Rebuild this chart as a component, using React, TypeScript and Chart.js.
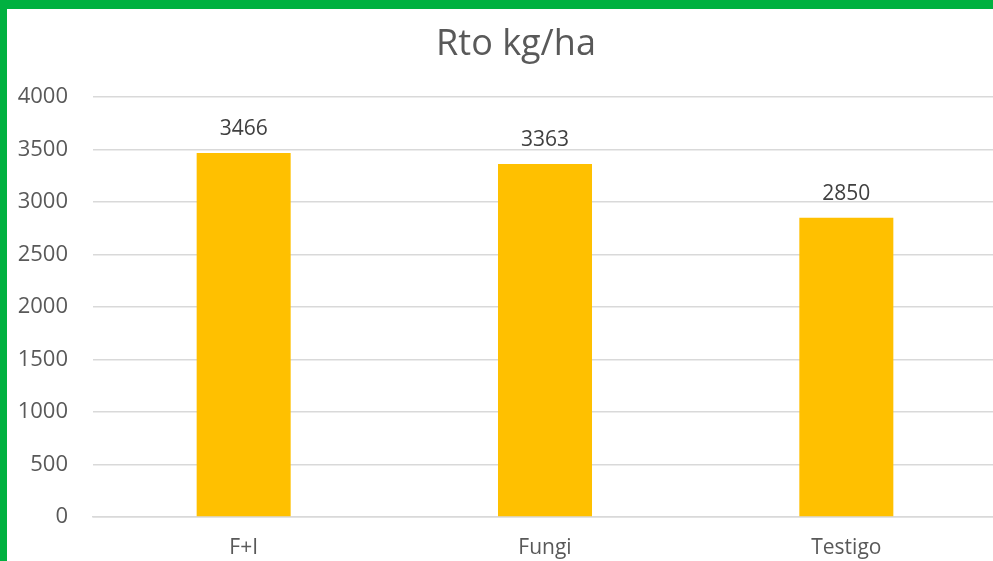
import React, { useEffect, useRef } from "react";
import { Chart, registerables } from "chart.js";

Chart.register(...registerables);

const categories = ["F+I", "Fungi", "Testigo"];
const values = [3466, 3363, 2850];
const yTicks = [0, 500, 1000, 1500, 2000, 2500, 3000, 3500, 4000];
const title = "Rto kg/ha";

const FONT = "'Open Sans', sans-serif";

const dataLabelPlugin = {
  id: "dataLabels",
  afterDatasetsDraw(chart: any) {
    const ctx = chart.ctx;
    const meta = chart.getDatasetMeta(0);
    ctx.save();
    ctx.font = `21px ${FONT}`;
    ctx.fillStyle = "#404040";
    ctx.textAlign = "center";
    ctx.textBaseline = "middle";
    meta.data.forEach((bar: any, i: number) => {
      ctx.fillText(String(values[i]), bar.x, bar.y - 24);
    });
    ctx.restore();
  },
};

const titlePlugin = {
  id: "centerTitle",
  afterDraw(chart: any) {
    const ctx = chart.ctx;
    ctx.save();
    ctx.font = `36px ${FONT}`;
    ctx.fillStyle = "#595959";
    ctx.textAlign = "center";
    ctx.textBaseline = "middle";
    ctx.fillText(title, 509, 35.6);
    ctx.restore();
  },
};

export default function App() {
  const ref = useRef<HTMLCanvasElement>(null);
  useEffect(() => {
    if (!ref.current) return;
    const chart = new Chart(ref.current, {
      type: "bar",
      data: {
        labels: categories,
        datasets: [
          {
            data: values,
            backgroundColor: "#FFC000",
            barPercentage: 0.312,
            categoryPercentage: 1,
          },
        ],
      },
      options: {
        responsive: false,
        animation: false,
        layout: { padding: { left: 0, right: 26, top: 88, bottom: 0 } },
        plugins: {
          legend: { display: false },
          tooltip: { enabled: false },
          title: { display: false },
        },
        scales: {
          x: {
            grid: { display: false, drawTicks: false },
            border: { display: true, color: "#D9D9D9", width: 1.5 },
            ticks: {
              color: "#595959",
              font: { family: FONT, size: 21 },
              padding: 18,
            },
            afterFit: (s: any) => {
              s.height = 92;
            },
          },
          y: {
            min: 0,
            max: 4000,
            afterBuildTicks: (s: any) => {
              s.ticks = yTicks.map((v) => ({ value: v }));
            },
            grid: { color: "#D9D9D9", lineWidth: 1.5, drawTicks: false },
            border: { display: false },
            ticks: {
              color: "#595959",
              font: { family: FONT, size: 22 },
              padding: 25,
              callback: (v: any) => String(v),
            },
            afterFit: (s: any) => {
              s.width = 86;
            },
          },
        },
      },
      plugins: [dataLabelPlugin, titlePlugin],
    });
    return () => chart.destroy();
  }, []);

  return (
    <div
      style={{
        position: "fixed",
        left: 0,
        top: 0,
        width: 993,
        height: 561,
        overflow: "hidden",
        background: "#fff",
      }}
    >
      <div
        style={{
          position: "absolute",
          left: 0,
          top: 0,
          width: 993,
          height: 9,
          background: "#00B140",
        }}
      />
      <div
        style={{
          position: "absolute",
          left: 0,
          top: 0,
          width: 7,
          height: 561,
          background: "#00B140",
        }}
      />
      <canvas
        ref={ref}
        width={1016}
        height={600}
        style={{ position: "absolute", left: 7, top: 9, width: 1016, height: 600 }}
      />
    </div>
  );
}
